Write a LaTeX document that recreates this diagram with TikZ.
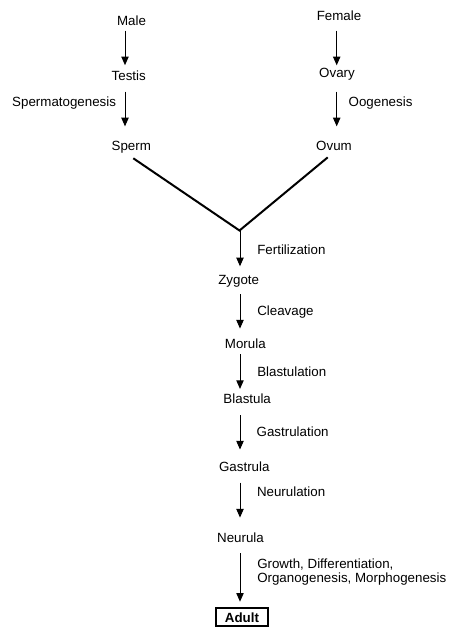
\documentclass[tikz,border=0pt]{standalone}
\usepackage{fontspec}
\setmainfont{Liberation Sans}
\usetikzlibrary{arrows.meta,calc}

\tikzset{
  stage/.style={inner sep=0pt, outer sep=0pt, text height=7.3pt, text depth=0pt, anchor=base},
  proc/.style={inner sep=0pt, outer sep=0pt, text height=7.3pt, text depth=0pt},
  arr/.style={line width=0.75pt, -{Triangle[width=5.5pt,length=6.5pt]}},
  vline/.style={line width=1.5pt},
  final/.style={draw, line width=1.5pt, inner sep=0pt, minimum width=39pt, minimum height=13.5pt, font=\bfseries}
}

\begin{document}
\begin{tikzpicture}[x=0.75pt, y=-0.75pt, font=\fontsize{10}{10.8}\selectfont]
  \useasboundingbox (0,0) rectangle (452,632);

  % columns of the arrows
  \coordinate (lcol) at (125,0);
  \coordinate (rcol) at (336.7,0);
  \coordinate (ccol) at (240,0);

  % male side
  \node[stage] (male)   at (131.5,25)   {Male};
  \node[stage] (testis) at (128.7,80.3) {Testis};
  \node[stage] (sperm)  at (131.3,150.7) {Sperm};
  \node[proc, anchor=base east] (spermgen) at (116,106) {Spermatogenesis};

  % female side
  \node[stage] (female) at (339,20)    {Female};
  \node[stage] (ovary)  at (337,77.3)  {Ovary};
  \node[stage] (ovum)   at (334,150.7) {Ovum};
  \node[proc, anchor=base west] (oogen) at (348.7,106) {Oogenesis};

  % development
  \coordinate (join) at (239.5,230.5);
  \node[stage] (zygote)   at (238.7,284.3) {Zygote};
  \node[stage] (morula)   at (245.3,348.3) {Morula};
  \node[stage] (blastula) at (247.2,403.7) {Blastula};
  \node[stage] (gastrula) at (244.3,471)   {Gastrula};
  \node[stage] (neurula)  at (240.5,542.7) {Neurula};
  \node[final] (adult)    at (242,617.3)   {Adult};

  \node[proc, anchor=base west] (fert)  at (257.3,254.3) {Fertilization};
  \node[proc, anchor=base west] (cleav) at (257.3,315)   {Cleavage};
  \node[proc, anchor=base west] (blast) at (257.3,376)   {Blastulation};
  \node[proc, anchor=base west] (gastr) at (256.7,436.7) {Gastrulation};
  \node[proc, anchor=base west] (neur)  at (257,496.7)   {Neurulation};
  \node[inner sep=0pt, anchor=north west, align=left] (growth) at (257,558.3)
    {Growth, Differentiation,\\Organogenesis, Morphogenesis};

  % arrows
  \draw[arr, shorten <=4.3pt, shorten >=4pt]     (male.south -| lcol)   -- (testis.north -| lcol);
  \draw[arr, shorten <=8.55pt, shorten >=10.95pt] (testis.south -| lcol) -- (sperm.north -| lcol);
  \draw[arr, shorten <=8pt, shorten >=1.7pt]     (female.south -| rcol) -- (ovary.north -| rcol);
  \draw[arr, shorten <=10.8pt, shorten >=10.95pt] (ovary.south -| rcol)  -- (ovum.north -| rcol);

  \draw[vline] ([xshift=1.5pt,yshift=-5.7pt]sperm.south) -- (join) -- ([xshift=-4.7pt,yshift=-5pt]ovum.south);

  \draw[arr, shorten >=6.2pt]                    (join -| ccol)         -- (zygote.north -| ccol);
  \draw[arr, shorten <=7.3pt, shorten >=7.5pt]   (zygote.south -| ccol) -- (morula.north -| ccol);
  \draw[arr, shorten <=4.3pt, shorten >=3.75pt]  (morula.south -| ccol) -- (blastula.north -| ccol);
  \draw[arr, shorten <=8.5pt, shorten >=8.8pt]   (blastula.south -| ccol) -- (gastrula.north -| ccol);
  \draw[arr, shorten <=8.8pt, shorten >=11.55pt] (gastrula.south -| ccol) -- (neurula.north -| ccol);
  \draw[arr, shorten <=7.95pt, shorten >=4.2pt]  (neurula.south -| ccol) -- (adult.north -| ccol);

\end{tikzpicture}
\end{document}
